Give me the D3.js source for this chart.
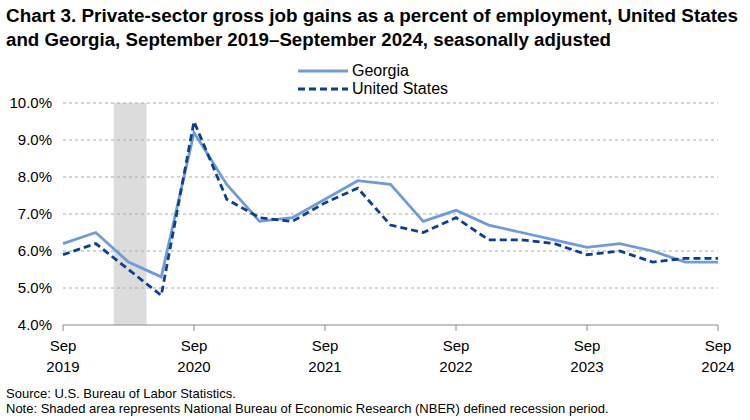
<!DOCTYPE html><html><head><meta charset="utf-8"><script src="https://cdn.jsdelivr.net/npm/d3@7"></script>
<style>body{margin:0;background:#fff;font-family:Arial,"Liberation Sans",sans-serif}</style></head><body><svg width="750" height="420"></svg>
<script>
const quarters=d3.range(21);
const georgia=[6.2,6.5,5.7,5.3,9.2,7.8,6.8,6.9,7.4,7.9,7.8,6.8,7.1,6.7,6.5,6.3,6.1,6.2,6.0,5.7,5.7];
const unitedStates=[5.9,6.2,5.5,4.8,9.5,7.4,6.9,6.8,7.3,7.7,6.7,6.5,6.9,6.3,6.3,6.2,5.9,6.0,5.7,5.8,5.8];
const yTicks=[4,5,6,7,8,9,10];
const xTickIdx=[0,4,8,12,16,20];
const xTickLabels=[["Sep","2019"],["Sep","2020"],["Sep","2021"],["Sep","2022"],["Sep","2023"],["Sep","2024"]];
const recession=[1.55,2.55];
const svg=d3.select("svg");
const x=d3.scaleLinear().domain([0,20]).range([63,718]);
const y=d3.scaleLinear().domain([4,10]).range([325,103]);
svg.append("text").attr("x",6).attr("y",22).attr("font-size",17.5).attr("font-weight","bold").attr("textLength",732).attr("lengthAdjust","spacingAndGlyphs").text("Chart 3. Private-sector gross job gains as a percent of employment, United States");
svg.append("text").attr("x",6).attr("y",46).attr("font-size",17.5).attr("font-weight","bold").attr("textLength",605).attr("lengthAdjust","spacingAndGlyphs").text("and Georgia, September 2019–September 2024, seasonally adjusted");
svg.append("rect").attr("x",x(recession[0])).attr("width",x(recession[1])-x(recession[0])).attr("y",y(10)).attr("height",y(4)-y(10)).attr("fill","#dcdcdc");
yTicks.forEach(t=>{
 if(t>4) svg.append("line").attr("x1",x(0)).attr("x2",x(20)).attr("y1",y(t)).attr("y2",y(t)).attr("stroke","#aaa").attr("stroke-dasharray","3,3");
 svg.append("text").attr("x",x(0)-11).attr("y",y(t)+5).attr("text-anchor","end").attr("font-size",15).text(t.toFixed(1)+"%");
});
svg.append("line").attr("x1",x(0)).attr("x2",x(20)).attr("y1",y(4)).attr("y2",y(4)).attr("stroke","#888");
xTickIdx.forEach((q,i)=>{
 svg.append("line").attr("x1",x(q)).attr("x2",x(q)).attr("y1",y(4)).attr("y2",y(4)+6).attr("stroke","#888");
 const t=svg.append("text").attr("x",x(q)).attr("text-anchor","middle").attr("font-size",15);
 t.append("tspan").attr("x",x(q)).attr("y",y(4)+26).text(xTickLabels[i][0]);
 t.append("tspan").attr("x",x(q)).attr("y",y(4)+47).text(xTickLabels[i][1]);
});
const line=d3.line().x((d,i)=>x(quarters[i])).y(d=>y(d));
svg.append("path").attr("d",line(georgia)).attr("fill","none").attr("stroke","#6f9bd8").attr("stroke-width",2.8);
svg.append("path").attr("d",line(unitedStates)).attr("fill","none").attr("stroke","#0b3f91").attr("stroke-width",2.8).attr("stroke-dasharray","7,4");
svg.append("line").attr("x1",298).attr("x2",348).attr("y1",71).attr("y2",71).attr("stroke","#6f9bd8").attr("stroke-width",2.8);
svg.append("text").attr("x",352).attr("y",76).attr("font-size",16).text("Georgia");
svg.append("line").attr("x1",298).attr("x2",348).attr("y1",89).attr("y2",89).attr("stroke","#0b3f91").attr("stroke-width",2.8).attr("stroke-dasharray","7,4");
svg.append("text").attr("x",352).attr("y",94).attr("font-size",16).text("United States");
svg.append("text").attr("x",6).attr("y",398).attr("font-size",13).text("Source: U.S. Bureau of Labor Statistics.");
svg.append("text").attr("x",6).attr("y",413).attr("font-size",13).text("Note: Shaded area represents National Bureau of Economic Research (NBER) defined recession period.");
</script></body></html>
